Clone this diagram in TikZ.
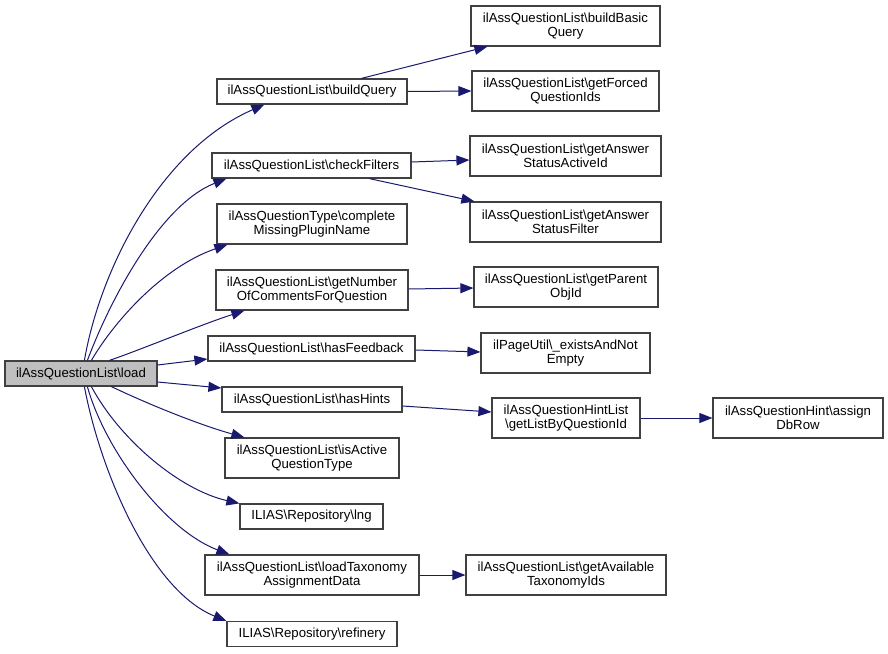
\documentclass[tikz,border=0pt]{standalone}
\usepackage{fontspec}
\setmainfont{Liberation Sans}
\usetikzlibrary{arrows.meta,calc}
\definecolor{edgec}{HTML}{191970}
\definecolor{boxc}{HTML}{404040}
\definecolor{loadfill}{HTML}{BFBFBF}
\begin{document}
\begin{tikzpicture}[x=1pt,y=-1pt,
  box/.style={draw=boxc,line width=1.2pt,fill=white,inner sep=0pt,align=center,
    font=\fontsize{13.2}{14}\selectfont},
  one/.style={minimum height=25pt},
  two/.style={minimum height=40pt},
  e/.style={draw=edgec,line width=1pt,-{Triangle[length=13pt,width=10pt]}}]
\useasboundingbox[fill=white] (0,0) rectangle (888,653);
% left
\node[box,one,fill=loadfill,minimum width=152pt] (load) at (81,373.5) {ilAssQuestionList\textbackslash load};
% middle column
\node[box,one,minimum width=190pt] (bq) at (312,91.5) {ilAssQuestionList\textbackslash buildQuery};
\node[box,one,minimum width=199pt] (cf) at (311.5,165.5) {ilAssQuestionList\textbackslash checkFilters};
\node[box,two,minimum width=190pt] (cm) at (312,224) {ilAssQuestionType\textbackslash complete\\MissingPluginName};
\node[box,two,minimum width=192pt] (gn) at (312,290) {ilAssQuestionList\textbackslash getNumber\\OfCommentsForQuestion};
\node[box,one,minimum width=207pt] (hf) at (311.5,348.5) {ilAssQuestionList\textbackslash hasFeedback};
\node[box,one,minimum width=180pt] (hh) at (312,399.5) {ilAssQuestionList\textbackslash hasHints};
\node[box,two,minimum width=174pt] (ia) at (312,458) {ilAssQuestionList\textbackslash isActive\\QuestionType};
\node[box,one,minimum width=143pt] (lng) at (311.5,516.5) {ILIAS\textbackslash Repository\textbackslash lng};
\node[box,two,minimum width=214pt] (lt) at (312,575) {ilAssQuestionList\textbackslash loadTaxonomy\\AssignmentData};
\node[box,one,minimum width=170pt] (rf) at (312,634) {ILIAS\textbackslash Repository\textbackslash refinery};
% right column
\node[box,two,minimum width=189pt] (bb) at (565.5,26) {ilAssQuestionList\textbackslash buildBasic\\Query};
\node[box,two,minimum width=187pt] (gf) at (565.5,91) {ilAssQuestionList\textbackslash getForced\\QuestionIds};
\node[box,two,minimum width=191pt] (ga) at (565.5,156) {ilAssQuestionList\textbackslash getAnswer\\StatusActiveId};
\node[box,two,minimum width=191pt] (gs) at (565.5,222) {ilAssQuestionList\textbackslash getAnswer\\StatusFilter};
\node[box,two,minimum width=184pt] (gp) at (566,287) {ilAssQuestionList\textbackslash getParent\\ObjId};
\node[box,two,minimum width=169pt] (ex) at (565.5,353) {ilPageUtil\textbackslash \_existsAndNot\\Empty};
\node[box,two,minimum width=148pt] (hl) at (566,418) {ilAssQuestionHintList\\\textbackslash getListByQuestionId};
\node[box,two,minimum width=170pt] (ad) at (798,418) {ilAssQuestionHint\textbackslash assign\\DbRow};
\node[box,two,minimum width=200pt] (gav) at (566,575) {ilAssQuestionList\textbackslash getAvailable\\TaxonomyIds};
% edges from load
\draw[e] ($(load.north west)+(80,0)$) .. controls (100,270) and (160,150) .. ($(bq.south west)+(48,0)$);
\draw[e] ($(load.north west)+(83,0)$) .. controls (110,300) and (160,205) .. ($(cf.south west)+(15,0)$);
\draw[e] ($(load.north west)+(87,0)$) .. controls (112,325) and (160,268) .. ($(cm.south west)+(11,0)$);
\draw[e] ($(load.north west)+(105,0)$) .. controls (140,350) and (200,325) .. ($(gn.south west)+(29,0)$);
\draw[e] ($(load.east)+(0,-8.5)$) -- ($(hf.west)+(0,10.5)$);
\draw[e] ($(load.east)+(0,8.5)$) -- ($(hh.west)+(0,-11.5)$);
\draw[e] ($(load.south west)+(107,0)$) .. controls (150,405) and (200,425) .. ($(ia.north west)+(20,0)$);
\draw[e] ($(load.south west)+(87,0)$) .. controls (120,440) and (180,490) .. (lng.north west);
\draw[e] ($(load.south west)+(83,0)$) .. controls (105,450) and (165,530) .. ($(lt.north west)+(25,0)$);
\draw[e] ($(load.south west)+(80,0)$) .. controls (100,470) and (150,590) .. (rf.north west);
% edges to right column
\draw[e] ($(bq.north west)+(145,0)$) -- ($(bb.south west)+(17,0)$);
\draw[e] (bq.east) -- (gf.west);
\draw[e] ($(cf.east)+(0,-3.5)$) -- ($(ga.west)+(0,4)$);
\draw[e] ($(cf.south west)+(158,0)$) -- ($(gs.north west)+(5,0)$);
\draw[e] ($(gn.east)+(0,-1)$) -- ($(gp.west)+(0,1)$);
\draw[e] ($(hf.east)+(0,1.5)$) -- ($(ex.west)+(0,-1)$);
\draw[e] ($(hh.east)+(0,6.5)$) -- ($(hl.west)+(0,-6)$);
\draw[e] (hl.east) -- (ad.west);
\draw[e] (lt.east) -- (gav.west);
\end{tikzpicture}
\end{document}
